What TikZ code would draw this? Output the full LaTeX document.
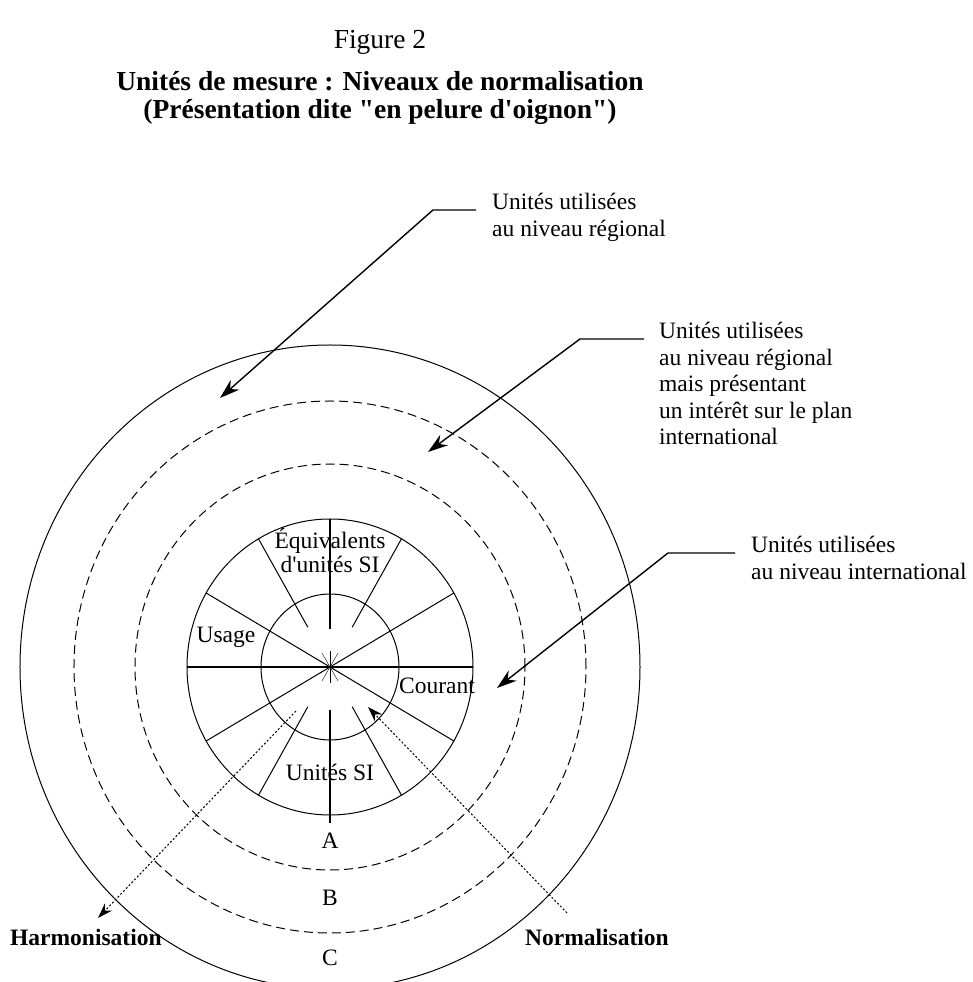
\documentclass[tikz,border=0pt]{standalone}
\usepackage{fontspec}
\setmainfont{Liberation Serif}[Ligatures=TeXOff]
\usetikzlibrary{arrows.meta}

\begin{document}
\begin{tikzpicture}[x=1pt,y=1pt,
    lbl/.style={font=\fontsize{23.5}{26.5}\selectfont, inner sep=0pt, align=left, anchor=base west},
    lblb/.style={lbl, font=\fontsize{23.5}{26.5}\selectfont\bfseries},
    ttl/.style={font=\fontsize{27.5}{28}\selectfont, inner sep=0pt, anchor=base, align=center},
    ring/.style={line width=1pt},
    dashring/.style={line width=1pt, dash pattern=on 9pt off 5pt},
    spoke/.style={line width=1pt},
    pointer/.style={line width=1.4pt, -{Stealth[length=20pt,width=13pt]}},
    dotpointer/.style={line width=1pt, dash pattern=on 2pt off 2pt, -{Stealth[length=15pt,width=10pt]}}]
  \useasboundingbox (-330,-315) rectangle (643,667);
  % title
  \node[ttl] (fig) at (50,618) {Figure 2};
  \node[ttl, font=\fontsize{27.5}{28}\selectfont\bfseries] (title) at (50,548)
    {Unités de mesure : Niveaux de normalisation\\(Présentation dite "en pelure d'oignon")};
  % rings of the onion
  \draw[ring] (0,0) ellipse [x radius=69, y radius=73];
  \draw[ring] (0,0) ellipse [x radius=143, y radius=148];
  \draw[dashring] (0,0) ellipse [x radius=195, y radius=203];
  \draw[dashring] (0,0) ellipse [x radius=256, y radius=266];
  \draw[ring] (0,0) ellipse [x radius=310, y radius=322];
  % spokes
  \draw[line width=1.6pt] (-143,0) -- (143,0);
  \draw[line width=1.6pt] (0,38) -- (0,148);
  \draw[line width=1.6pt] (0,-43) -- (0,-156);
  \foreach \a in {30,150,210,330}
    \draw[spoke] (0,0) -- ({143*cos(\a)},{148*sin(\a)});
  \foreach \a in {60,120,240,300}
    \draw[spoke] ({0.31*143*cos(\a)},{0.31*148*sin(\a)}) -- ({143*cos(\a)},{148*sin(\a)});
  \foreach \a in {60,90,120,240,270,300}
    \draw (0,0) -- (\a:16);
  % texts
  \draw
    (0,94) node[lbl, anchor=base, align=center, font=\fontsize{23.5}{24}\selectfont] (equiv) {Équivalents\\d'unités SI}
    (-104,24) node[lbl, anchor=base] (usage) {Usage}
    (107,-27) node[lbl, anchor=base] (courant) {Courant}
    (0,-113) node[lbl, anchor=base] (unitsi) {Unités SI}
    (0,-181) node[lbl, anchor=base] (A) {A}
    (0,-238) node[lbl, anchor=base] (B) {B}
    (0,-298) node[lbl, anchor=base] (C) {C};
  \node[lbl] (regional) at (162,430.5) {Unités utilisées\\au niveau régional};
  \node[lbl] (interest) at (329,222) {Unités utilisées\\au niveau régional\\mais présentant\\un intérêt sur le plan\\international};
  \node[lbl] (intl) at (421,87.5) {Unités utilisées\\au niveau international};
  \node[lblb] (harmo) at (-320,-278) {Harmonisation};
  \node[lblb] (normal) at (195,-278) {Normalisation};
  % free ends
  \coordinate (tipReg) at (-110,269);
  \coordinate (tipInt) at (98,215);
  \coordinate (tipIntl) at (167,-21);
  \coordinate (harmoStart) at (-34,-44);
  \coordinate (harmoTip) at (-232,-251);
  \coordinate (normStart) at (237,-246);
  \coordinate (normTip) at (38,-40);
  \begin{scope}[pointer]
    \draw ([xshift=-16pt,yshift=26.5pt]regional.base west) -- ++(-43,0) -- (tipReg);
    \draw ([xshift=-15pt,yshift=106pt]interest.base west) -- ++(-64,0) -- (tipInt);
    \draw ([xshift=-16pt,yshift=26.5pt]intl.base west) -- ++(-67,0) -- (tipIntl);
  \end{scope}
  \begin{scope}[dotpointer]
    \draw (harmoStart) -- (harmoTip);
    \draw (normStart) -- (normTip);
  \end{scope}
\end{tikzpicture}
\end{document}
